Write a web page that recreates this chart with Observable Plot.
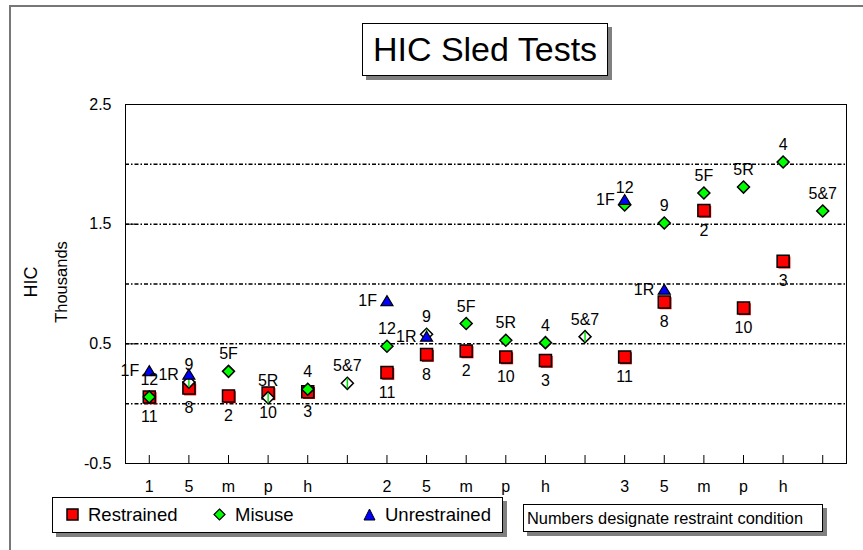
<!DOCTYPE html>
<html><head><meta charset="utf-8">
<script src="https://cdn.jsdelivr.net/npm/d3@7"></script>
<script src="https://cdn.jsdelivr.net/npm/@observablehq/plot@0.6"></script>
<style>
body{margin:0;background:#fff;font-family:"Liberation Sans",Arial,sans-serif;}
#wrap{position:relative;width:863px;height:550px;overflow:hidden;background:#fff;}
#wrap > svg{position:absolute;left:0;top:0;}
.outer{position:absolute;left:9px;top:5px;width:900px;height:600px;border:2px solid #777;box-sizing:border-box;}
.box{position:absolute;background:#fff;border:1.5px solid #000;box-shadow:4px 4px 0 #808080;box-sizing:border-box;}
.title{left:362px;top:23px;width:246px;height:53px;font-size:34px;line-height:50px;text-align:center;white-space:nowrap;}
.legend{left:52px;top:497px;width:451px;height:36px;font-size:18.5px;}
.legend .it{position:absolute;top:0;line-height:33px;white-space:nowrap;}
.legend .it svg{position:relative;vertical-align:middle;margin-right:9px;top:-2px;}
.note{left:523px;top:504px;width:300px;height:28px;font-size:16.4px;line-height:26px;padding-left:3px;white-space:nowrap;}
.ylab{position:absolute;transform:translate(-50%,-50%) rotate(-90deg);white-space:nowrap;}
</style></head><body><div id="wrap"></div>
<script>
// ---- data ----
const tickLabels = ["1","5","m","p","h","","2","5","m","p","h","","3","5","m","p","h",""];
const restrained = [0.056,0.13,0.065,0.09,0.10,null, 0.26,0.41,0.44,0.39,0.36,null, 0.39,0.85,1.615,0.80,1.19,null];
const restrainedLabels = ["11","8","2","10","3","", "11","8","2","10","3","", "11","8","2","10","3",""];
const misuse = [0.056,0.18,0.27,0.05,0.12,0.17, 0.48,0.58,0.67,0.53,0.51,0.56, 1.66,1.51,1.76,1.81,2.02,1.61];
const misuseLabels = ["12","9","5F","5R","4","5&7", "12","9","5F","5R","4","5&7", "12","9","5F","5R","4","5&7"];
const misuseHollow = [1,3,5,7,11];
const unrestrained = [0.27,0.24,null,null,null,null, 0.855,0.557,null,null,null,null, 1.70,0.95,null,null,null,null];
const unrestrainedLabels = ["1F","1R","","","","", "1F","1R","","","","", "1F","1R","","","",""];
const yTicks = [-0.5,0.5,1.5,2.5];
const gridValues = [0,0.5,1,1.5,2];

// ---- tables ----
const idx = tickLabels.map((_, i) => i);
const rData = idx.filter(i => restrained[i] != null).map(i => ({i, v: restrained[i], label: restrainedLabels[i]}));
const mData = idx.map(i => ({i, v: misuse[i], label: misuseLabels[i], hollow: misuseHollow.includes(i)}));
const uData = idx.filter(i => unrestrained[i] != null).map(i => ({i, v: unrestrained[i], label: unrestrainedLabels[i]}));

// ---- symbols ----
const half = size => Math.sqrt(size / Math.PI);
const sq = {draw(c, s){ const h = half(s); c.moveTo(-h,-h); c.lineTo(h,-h); c.lineTo(h,h); c.lineTo(-h,h); c.closePath(); }};
const dia = {draw(c, s){ const h = half(s); c.moveTo(0,-h); c.lineTo(h,0); c.lineTo(0,h); c.lineTo(-h,0); c.closePath(); }};
const tri = {draw(c, s){ const h = half(s); c.moveTo(0,-h*0.95); c.lineTo(h,h*0.7); c.lineTo(-h,h*0.7); c.closePath(); }};
const vline = {draw(c, s){ const h = half(s); c.moveTo(0,-h); c.lineTo(0,h); }};

const xMin = -0.6, xMax = 17.6, yMin = -0.5, yMax = 2.5;

const chart = Plot.plot({
  width: 863, height: 550,
  marginLeft: 125, marginRight: 17, marginTop: 104, marginBottom: 87,
  style: {fontFamily: "'Liberation Sans', Arial, sans-serif", fontSize: "16px", background: "transparent", color: "black", overflow: "visible"},
  x: {type: "linear", domain: [xMin, xMax]},
  y: {type: "linear", domain: [yMin, yMax]},
  marks: [
    Plot.ruleY(gridValues, {y: d => d, stroke: "black", strokeWidth: 1.5, strokeDasharray: "4,2,1.5,2"}),
    Plot.frame({stroke: "black", strokeWidth: 1}),
    Plot.ruleX(idx, {x: d => d, y1: () => yMin, y2: () => yMin, insetBottom: 8, stroke: "black", strokeWidth: 1}),
    Plot.ruleY(yTicks, {y: d => d, x1: () => xMin, x2: () => xMin, insetRight: -10, stroke: "black", strokeWidth: 1}),
    Plot.axisX(idx, {tickFormat: i => tickLabels[i], tickSize: 0, tickPadding: 17, fontSize: 16, label: null}),
    Plot.axisY(yTicks, {tickFormat: d => String(d), tickSize: 0, tickPadding: 14, fontSize: 16, label: null}),
    // restrained squares
    Plot.dot(rData, {x: "i", y: "v", symbol: sq, r: 6, fill: "#ff0000", dx: 1.3, dy: 1.3}),
    Plot.dot(rData, {x: "i", y: "v", symbol: sq, r: 6, fill: "#ff0000", stroke: "black", strokeWidth: 1.5}),
    // misuse diamonds
    Plot.dot(mData, {x: "i", y: "v", symbol: dia, r: 6, fill: d => d.hollow ? "white" : "#00ff00", stroke: "black", strokeWidth: 1.5}),
    Plot.dot(mData.filter(d => d.hollow), {x: "i", y: "v", symbol: vline, r: 5, fill: "none", stroke: "#00dd00", strokeWidth: 1.5}),
    // unrestrained triangles
    Plot.dot(uData, {x: "i", y: "v", symbol: tri, r: 6, fill: "#0000ff", stroke: "black", strokeWidth: 1.2}),
    // labels
    Plot.text(rData, {x: "i", y: "v", text: "label", dy: 20, fontSize: 16, fill: "black"}),
    Plot.text(mData, {x: "i", y: "v", text: "label", dy: -17, fontSize: 16, fill: "black"}),
    Plot.text(uData, {x: "i", y: "v", text: "label", dx: -10, textAnchor: "end", fontSize: 16, fill: "black"})
  ]
});

const wrap = document.getElementById("wrap");
wrap.innerHTML = `
<div class="outer"></div>
<div class="ylab" style="left:31px;top:282px;font-size:18px;">HIC</div>
<div class="ylab" style="left:61px;top:282px;font-size:16.5px;">Thousands</div>
`;
wrap.appendChild(chart);
const extra = document.createElement("div");
extra.innerHTML = `
<div class="box title">HIC Sled Tests</div>
<div class="box legend">
  <span class="it" style="left:13px"><svg width="13" height="13"><rect x="1" y="1" width="11" height="11" fill="#ff0000" stroke="black" stroke-width="1.5"/></svg>Restrained</span>
  <span class="it" style="left:160px"><svg width="13" height="13"><path d="M6.5,1L12,6.5L6.5,12L1,6.5Z" fill="#00ff00" stroke="black" stroke-width="1.2"/></svg>Misuse</span>
  <span class="it" style="left:310px"><svg width="13" height="13"><path d="M6.5,1L12,12L1,12Z" fill="#0000ff" stroke="black" stroke-width="1"/></svg>Unrestrained</span>
</div>
<div class="box note">Numbers designate restraint condition</div>`;
while (extra.firstChild) wrap.appendChild(extra.firstChild);
</script>
</body></html>
